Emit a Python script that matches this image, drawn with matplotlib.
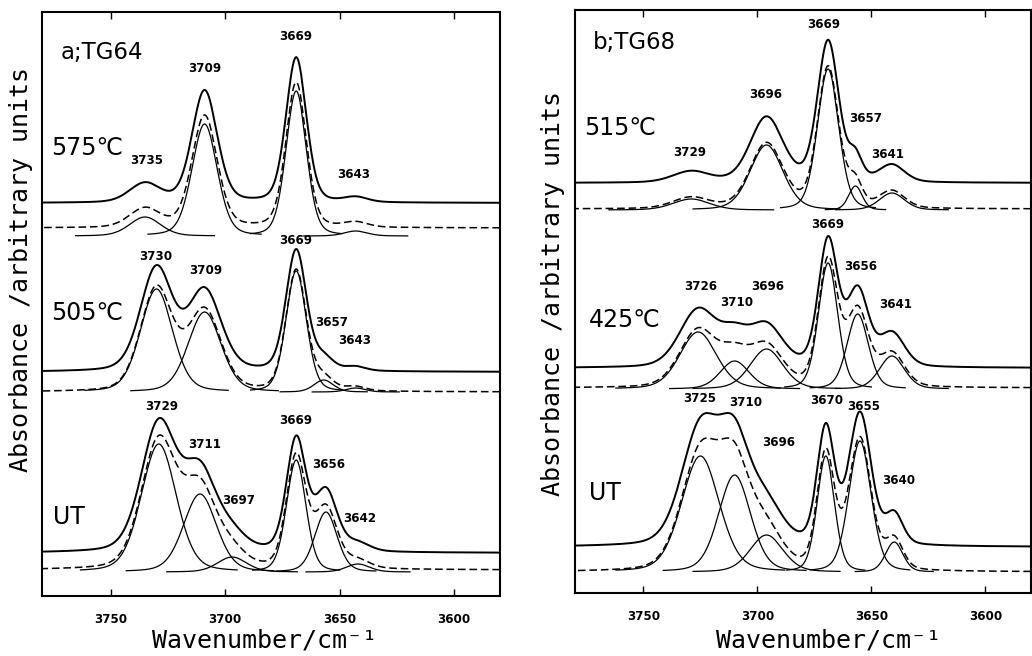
import numpy as np
import matplotlib
matplotlib.use("Agg")
import matplotlib.pyplot as plt

W, H = 1032, 656

# ---------------- data ----------------
x_limits = (3780, 3580)
x_ticks = [3750, 3700, 3650, 3600]

# Panel a : TG64   (band centre / cm-1, band height, band FWHM / cm-1)
a575_centre = [3735, 3709, 3669, 3643]
a575_height = [19, 112, 145, 5]
a575_fwhm = [16.0, 13.0, 10.5, 12.0]

a505_centre = [3730, 3709, 3669, 3657, 3643]
a505_height = [103, 80, 121, 12, 4]
a505_fwhm = [16.5, 17.0, 10.5, 10.0, 10.0]

aUT_centre = [3729, 3711, 3697, 3669, 3656, 3642]
aUT_height = [128, 78, 15, 112, 60, 8]
aUT_fwhm = [18.0, 17.0, 15.0, 10.0, 11.5, 12.0]

# Panel b : TG68
b515_centre = [3729, 3696, 3669, 3657, 3641]
b515_height = [11, 65, 141, 24, 17]
b515_fwhm = [19.0, 17.0, 11.0, 7.0, 13.0]

b425_centre = [3726, 3710, 3696, 3669, 3656, 3641]
b425_height = [57, 28, 40, 126, 75, 33]
b425_fwhm = [19.0, 15.0, 17.0, 10.0, 11.0, 13.0]

bUT_centre = [3725, 3710, 3696, 3670, 3655, 3640]
bUT_height = [116, 97, 37, 116, 131, 30]
bUT_fwhm = [19.5, 16.5, 17.0, 9.0, 11.5, 9.0]

# spectrum names and vertical offsets: observed, fitted sum, components
a_names = ['575℃', '505℃', 'UT']
a_obs_offset = [393, 224, 43]
a_fit_offset = [368, 204, 26]
a_comp_offset = [360, 204, 24]

b_names = ['515℃', '425℃', 'UT']
b_obs_offset = [410, 225, 46]
b_fit_offset = [384, 205, 21]
b_comp_offset = [383, 204, 21]

# positions of the band labels (wavenumber, height) in each spectrum
a575_label_pos = [(3734.3, 435), (3709.1, 527), (3669.1, 560), (3643.9, 422)]
a505_label_pos = [(3730.4, 340), (3708.3, 325), (3669.1, 356), (3653.5, 273), (3643.5, 255)]
aUT_label_pos = [(3727.8, 189), (3709.1, 151), (3693.9, 96), (3669.1, 175), (3654.8, 132), (3641.3, 77)]
b515_label_pos = [(3729.9, 440), (3696.3, 499), (3671.0, 569), (3652.6, 474), (3643.0, 438)]
b425_label_pos = [(3724.7, 306), (3709.0, 290), (3695.4, 306), (3669.2, 368), (3654.8, 326), (3639.5, 289)]
bUT_label_pos = [(3725.1, 194), (3705.0, 191), (3690.6, 150), (3669.7, 193), (3653.5, 187), (3638.2, 112)]

a_name_pos = [(3776, 448), (3776, 283), (3775.2, 79)]
b_name_pos = [(3775.8, 465), (3774, 273), (3774, 100)]

# ---------------- drawing ----------------
ETA = 0.25


def band(x, c, h, w):
    d = (x - c) / w
    return h * ((1 - ETA) * np.exp(-4 * np.log(2) * d ** 2) + ETA / (1 + 4 * d ** 2))


fig = plt.figure(figsize=(W / 100, H / 100), dpi=100)
fig.patch.set_facecolor('white')

ax_a = fig.add_axes([42 / W, 1 - 596 / H, (500 - 42) / W, (596 - 12) / H])
ax_b = fig.add_axes([575 / W, 1 - 593 / H, (1031 - 575) / W, (593 - 10) / H])

x = np.linspace(3580, 3780, 2001)

panels = [
    (ax_a, 584, 'a;TG64', (3771.7, 544),
     [(a575_centre, a575_height, a575_fwhm, a575_label_pos),
      (a505_centre, a505_height, a505_fwhm, a505_label_pos),
      (aUT_centre, aUT_height, aUT_fwhm, aUT_label_pos)],
     a_names, a_name_pos, a_obs_offset, a_fit_offset, a_comp_offset),
    (ax_b, 583, 'b;TG68', (3772.3, 551),
     [(b515_centre, b515_height, b515_fwhm, b515_label_pos),
      (b425_centre, b425_height, b425_fwhm, b425_label_pos),
      (bUT_centre, bUT_height, bUT_fwhm, bUT_label_pos)],
     b_names, b_name_pos, b_obs_offset, b_fit_offset, b_comp_offset),
]

for ax, ytop, title, title_pos, spectra, names, name_pos, obs_off, fit_off, comp_off in panels:
    for i, (cen, hei, fw, lpos) in enumerate(spectra):
        total = np.zeros_like(x)
        for c, h, w in zip(cen, hei, fw):
            total += band(x, c, h, w)
            m = np.abs(x - c) <= 1.9 * w
            ax.plot(x[m], band(x[m], c, h, w) + comp_off[i], color='black', lw=0.9)
        ax.plot(x, total + obs_off[i], color='black', lw=1.4)
        ax.plot(x, total + fit_off[i], color='black', lw=1.1, dashes=(5, 2.5))
        for c, (lx, ly) in zip(cen, lpos):
            ax.text(lx, ly, str(c), ha='center', va='center', fontsize=8.6,
                    fontweight='bold', family='DejaVu Sans')
        ax.text(name_pos[i][0], name_pos[i][1], names[i], ha='left', va='center',
                fontsize=17, family='DejaVu Sans')
    ax.text(title_pos[0], title_pos[1], title, ha='left', va='center',
            fontsize=16.5, family='DejaVu Sans')
    ax.set_xlim(*x_limits)
    ax.set_ylim(0, ytop)
    ax.set_xticks(x_ticks)
    ax.set_xticklabels([str(t) for t in x_ticks], fontsize=8.6, fontweight='bold')
    ax.set_yticks([])
    ax.tick_params(axis='x', direction='in', top=True, bottom=True, length=5,
                   width=1.0, pad=12)
    for s in ax.spines.values():
        s.set_linewidth(1.5)

mono = 'DejaVu Sans Mono'
fig.text(265 / W, 1 - 641 / H, 'Wavenumber/cm⁻¹', ha='center', va='center',
         fontsize=18, family=mono)
fig.text(828 / W, 1 - 640 / H, 'Wavenumber/cm⁻¹', ha='center', va='center',
         fontsize=18, family=mono)
fig.text(21 / W, 1 - 270 / H, 'Absorbance /arbitrary units', ha='center', va='center',
         rotation=90, fontsize=18, family=mono)
fig.text(553 / W, 1 - 293 / H, 'Absorbance /arbitrary units', ha='center', va='center',
         rotation=90, fontsize=18, family=mono)

fig.savefig('out.png', dpi=100, facecolor='white')
